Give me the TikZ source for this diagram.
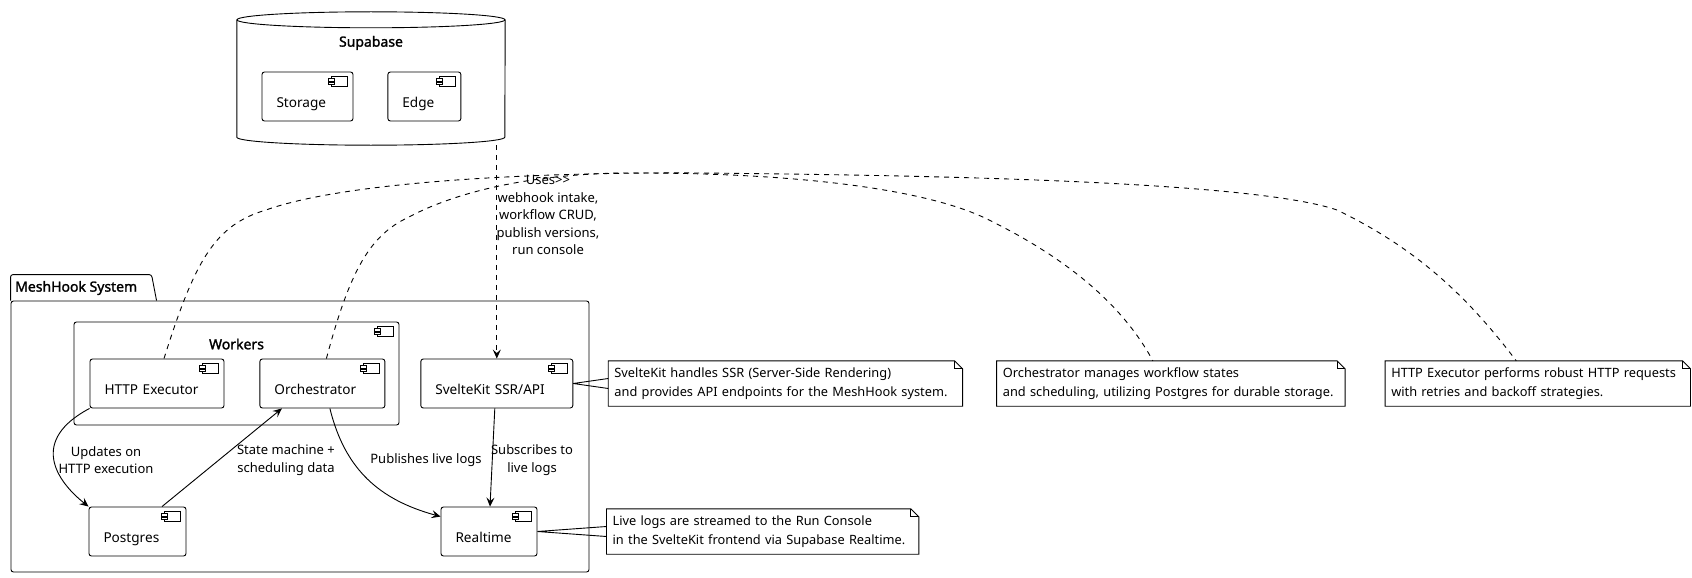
\documentclass[tikz,border=0pt]{standalone}
\usepackage{fontspec}
\setmainfont{Noto Sans}
\newfontfamily\titlefont{Noto Sans}[FakeBold=1.6]
\usetikzlibrary{positioning,calc,arrows.meta}

\newcommand{\compicon}[1]{%
	\draw[line width=0.8pt] ($(#1.north east)+(-22,5)$) rectangle ($(#1.north east)+(-6,15)$);
	\draw[line width=0.8pt,fill=white] ($(#1.north east)+(-25,7)$) rectangle ($(#1.north east)+(-19,9.5)$);
	\draw[line width=0.8pt,fill=white] ($(#1.north east)+(-25,10.5)$) rectangle ($(#1.north east)+(-19,13)$);
}
\newcommand{\notefold}[1]{%
	\draw[line width=0.9pt] (#1.north west) -- ($(#1.north east)+(-8,0)$) -- ($(#1.north east)+(0,8)$) -- (#1.south east) -- (#1.south west) -- cycle;
	\draw[line width=0.9pt] ($(#1.north east)+(-8,0)$) -- ($(#1.north east)+(-8,8)$) -- ($(#1.north east)+(0,8)$);
}

\tikzset{
	comp/.style={draw, line width=0.9pt, rounded corners=2.5pt, minimum height=49pt, inner xsep=14.5pt, inner ysep=0pt, align=left, text width=#1, text height=24pt, text depth=3pt, font=\fontsize{13.6}{17}\selectfont},
	note/.style={inner xsep=6pt, inner ysep=0pt, minimum height=45pt, align=left, text width=#1, font=\fontsize{12.8}{19}\selectfont},
	title/.style={font=\titlefont\fontsize{14}{17}\selectfont, inner sep=0pt},
	elabel/.style={font=\fontsize{13}{17.5}\selectfont, align=center, inner sep=0pt},
	flow/.style={draw, line width=0.9pt, -{Stealth[length=9pt,width=8pt,inset=3.5pt]}},
	notelink/.style={draw, line width=0.9pt, dash pattern=on 5pt off 5pt},
}

\begin{document}
\begin{tikzpicture}[x=1pt, y=-1pt]
	\path[fill=white] (0,0) rectangle (1692,578);
	\useasboundingbox (0,0) rectangle (1692,578);

	% Supabase database
	\node (supabase) [minimum width=268pt, minimum height=133pt, inner sep=0pt] at (371,78.5) {};
	\draw[line width=0.9pt] ($(supabase.north west)+(0,8)$) -- ($(supabase.south west)+(0,-8)$) arc[start angle=180, end angle=360, x radius=134pt, y radius=8pt] -- ($(supabase.north east)+(0,8)$);
	\draw[line width=0.9pt] ($(supabase.north)+(0,8)$) ellipse [x radius=134pt, y radius=8pt];
	\node[title] (supatitle) at (371,43) {Supabase};
	\node (storage) [comp=62pt] at (307.5,96.5) {Storage};
	\node (edge) [comp=44pt, right=34pt of storage] {Edge};

	% MeshHook package
	\node (meshhook) [draw, line width=0.9pt, rounded corners=2.5pt, minimum width=578pt, minimum height=271pt, inner sep=0pt] at (300,436.5) {};
	\draw[line width=0.9pt, rounded corners=2.5pt] (meshhook.north west) -- ($(meshhook.north west)+(0,-26)$) -- ($(meshhook.north west)+(141,-26)$) -- ($(meshhook.north west)+(146,0)$);
	\node[title, anchor=west] (meshtitle) at (15,288) {MeshHook System};

	\node (workers) [draw, line width=0.9pt, rounded corners=2.5pt, minimum width=325pt, minimum height=103pt, inner sep=0pt] at (236.5,373.5) {};
	\node[title] (workerstitle) at (236.5,344) {Workers};

	\node (httpexec) [comp=105pt] at (157,383.5) {HTTP Executor};
	\node (orch) [comp=96pt, right=35pt of httpexec] {Orchestrator};
	\node (svelte) [comp=123pt, right=35pt of orch] {SvelteKit SSR/API};
	\node (postgres) [comp=68pt] at (137.5,531.5) {Postgres};
	\node (realtime) [comp=67pt] at (489,531.5) {Realtime};

	\foreach \c in {storage,edge,workers,httpexec,orch,svelte,postgres,realtime}
		\compicon{\c};

	% notes
	\node (notesvelte) [note=342pt, right=35pt of svelte] {SvelteKit handles SSR (Server-Side Rendering)\\and provides API endpoints for the MeshHook system.};
	\node (noteorch) [note=336pt, right=34pt of notesvelte] {Orchestrator manages workflow states\\and scheduling, utilizing Postgres for durable storage.};
	\node (notehttp) [note=293pt, right=40pt of noteorch] {HTTP Executor performs robust HTTP requests\\with retries and backoff strategies.};
	\node (notert) [note=300pt, right=69pt of realtime] {Live logs are streamed to the Run Console\\in the SvelteKit frontend via Supabase Realtime.};
	\foreach \n in {notesvelte,noteorch,notehttp,notert}
		\notefold{\n};

	% connectors
	\draw[flow, dash pattern=on 5pt off 5pt] (svelte.north |- supabase.south) -- (svelte.north);
	\node[elabel] (lbluses) at (548,215) {Uses>{}>\\webhook intake,\\workflow CRUD,\\publish versions,\\run console};

	\draw[flow] (httpexec.south west) .. controls (30,440) and (55,480) .. (postgres.north west);
	\draw[flow] ([xshift=24.5pt]postgres.north) -- ([xshift=-40.5pt]orch.south);
	\draw[flow] ([xshift=7.5pt]orch.south) .. controls (345,470) and (380,500) .. ([yshift=-10pt]realtime.north west);
	\draw[flow] ([xshift=-2pt]svelte.south) -- ([xshift=1pt]realtime.north);
	\node[elabel] (lblupdates) at (106,460) {Updates on\\HTTP execution};
	\node[elabel] (lblstate) at (286,460) {State machine +\\scheduling data};
	\node[elabel] (lblpublish) at (426,460) {Publishes live logs};
	\node[elabel] (lblsub) at (532,460) {Subscribes to\\live logs};

	\draw[line width=0.9pt] (svelte.east) -- ($(notesvelte.west)+(0,-5)$) (svelte.east) -- ($(notesvelte.west)+(0,5)$);
	\draw[line width=0.9pt] (realtime.east) -- ($(notert.west)+(0,-5)$) (realtime.east) -- ($(notert.west)+(0,5)$);

	\draw[notelink] ([xshift=7pt]httpexec.north) .. controls (195,260) and (215,225) .. (266,210) .. controls (350,180) and (550,172) .. (700,173) .. controls (900,175) and (1250,180) .. (1337,210) .. controls (1420,250) and (1470,300) .. ([xshift=-21.5pt]notehttp.north);
	\draw[notelink] ([xshift=4pt]orch.north) .. controls (350,270) and (370,235) .. (409,217) .. controls (450,195) and (520,175) .. (620,173) .. controls (800,172) and (930,190) .. (989,220) .. controls (1060,255) and (1120,300) .. ([xshift=-18pt]noteorch.north);
\end{tikzpicture}
\end{document}
